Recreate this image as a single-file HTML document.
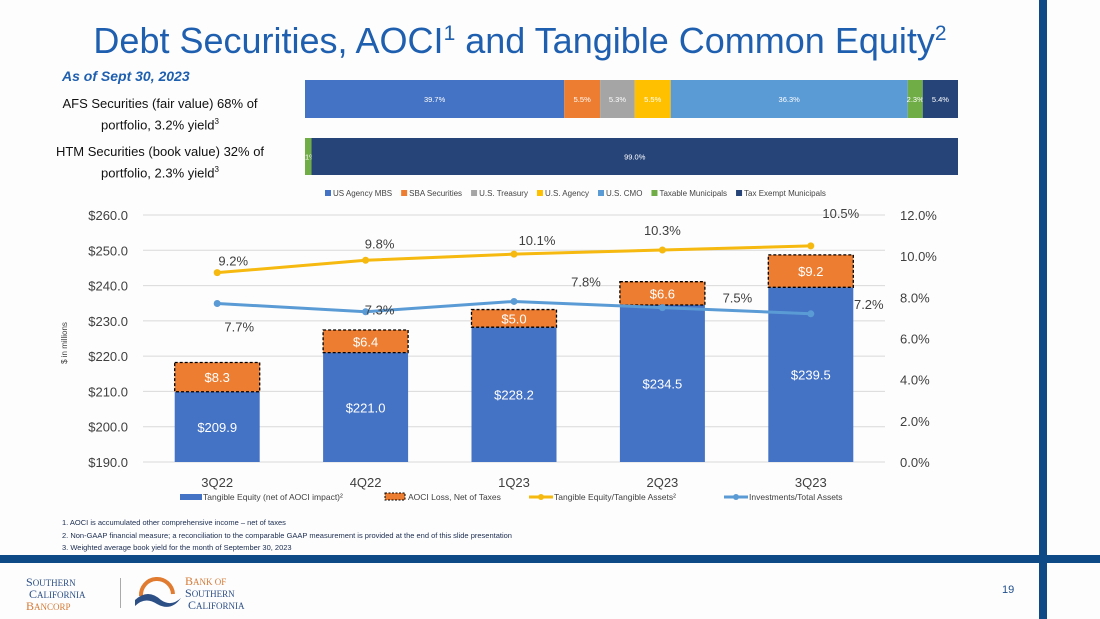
<!DOCTYPE html>
<html><head><meta charset="utf-8">
<style>
body{margin:0;width:1100px;height:619px;background:#fdfdfd;position:relative;overflow:hidden;font-family:"Liberation Sans",sans-serif;}
.abs{position:absolute;}
</style></head>
<body>
<div class="abs" style="left:0;width:1040px;top:20px;text-align:center;font-size:36px;color:#1f5fb0;">Debt Securities, AOCI<sup style="font-size:21px">1</sup> and Tangible Common Equity<sup style="font-size:21px">2</sup></div>
<div class="abs" style="left:62px;top:68px;font-size:14px;font-style:italic;font-weight:bold;color:#1f5fb0;">As of Sept 30, 2023</div>
<div class="abs" style="left:45px;width:230px;top:95px;text-align:center;font-size:13px;line-height:18px;color:#111;">AFS Securities (fair value) 68% of portfolio, 3.2% yield<sup style="font-size:8px">3</sup></div>
<div class="abs" style="left:45px;width:230px;top:143px;text-align:center;font-size:13px;line-height:18px;color:#111;">HTM Securities (book value) 32% of portfolio, 2.3% yield<sup style="font-size:8px">3</sup></div>
<div class="abs" style="left:1039px;top:0;width:8px;height:619px;background:#0e4a86;"></div>
<div class="abs" style="left:0;top:555px;width:1100px;height:8px;background:#0e4a86;"></div>
<div class="abs" style="left:1002px;top:584px;font-size:11px;color:#1f4e8c;">19</div>
<div class="abs" style="left:62px;top:517px;font-size:7.5px;line-height:12.5px;color:#1a2c50;">1. AOCI is accumulated other comprehensive income – net of taxes<br>2. Non-GAAP financial measure; a reconciliation to the comparable GAAP measurement is provided at the end of this slide presentation<br>3. Weighted average book yield for the month of September 30, 2023</div>
<div class="abs" style="left:26px;top:577px;font-family:'Liberation Serif',serif;font-size:12px;line-height:11px;color:#2c4f86;">S<span style="font-size:9px">OUTHERN</span><br>&nbsp;C<span style="font-size:9px">ALIFORNIA</span><br><span style="color:#d67a36">B<span style="font-size:9px">ANCORP</span></span></div>
<div class="abs" style="left:120px;top:578px;width:1px;height:30px;background:#aaa"></div>
<svg class="abs" style="left:133px;top:574px" width="50" height="36"><path d="M8 22 A16 16 0 0 1 40 20" fill="none" stroke="#e07b30" stroke-width="4"/><path d="M2 26 Q15 14 28 26 Q38 33 48 24 Q38 38 24 30 Q12 22 2 32Z" fill="#2c4f86"/></svg>
<div class="abs" style="left:185px;top:576px;font-family:'Liberation Serif',serif;font-size:12px;line-height:11px;color:#2c4f86;"><span style="color:#d67a36">B<span style="font-size:9px">ANK OF</span></span><br>S<span style="font-size:9px">OUTHERN</span><br>&nbsp;C<span style="font-size:9px">ALIFORNIA</span></div>

<svg id="topsvg" class="abs" style="left:0;top:0" width="1100" height="210"></svg>
<svg id="chart" class="abs" style="left:0;top:0" width="1100" height="519"></svg>
<script>
const secNames=["US Agency MBS","SBA Securities","U.S. Treasury","U.S. Agency","U.S. CMO","Taxable Municipals","Tax Exempt Municipals"];
const secColors=["#4472c4","#ed7d31","#a5a5a5","#ffc000","#5b9bd5","#70ad47","#264478"];
const afsVals=[39.7,5.5,5.3,5.5,36.3,2.3,5.4];
const htmVals=[0,0,0,0,0,1.0,99.0];

const categories=["3Q22","4Q22","1Q23","2Q23","3Q23"];
const equity=[209.9,221.0,228.2,234.5,239.5];
const aoci=[8.3,6.4,5.0,6.6,9.2];
const tceRatio=[9.2,9.8,10.1,10.3,10.5];
const invRatio=[7.7,7.3,7.8,7.5,7.2];
const leftTicks=[190,200,210,220,230,240,250,260];
const rightTicks=[0,2,4,6,8,10,12];

const NS="http://www.w3.org/2000/svg";
function mk(p,t,a,txt){const e=document.createElementNS(NS,t);for(const k in a)e.setAttribute(k,a[k]);if(txt!==undefined)e.textContent=txt;p.appendChild(e);return e;}

const topSvg=document.getElementById('topsvg');
const bx0=305,bx1=958;
function stack(vals,y,h,nm){let x=bx0;const tot=vals.reduce((a,b)=>a+b,0);
 vals.forEach((v,i)=>{if(v<=0)return;const w=v/tot*(bx1-bx0);
  const r=mk(topSvg,'rect',{x:x,y:y,width:w,height:h,fill:secColors[i]});
  
  
  const lbl=(v===1)?'1%':v.toFixed(1)+'%';
  const t=mk(topSvg,'text',{x:v<2?x:x+w/2,y:y+h/2+3,'font-size':7.5,fill:'#fff','text-anchor':v<2?'start':'middle'},lbl);
  
  
  x+=w;});}
stack(afsVals,80,38,'afs');
stack(htmVals,138,37,'htm');
let lx=325;
secNames.forEach((n,i)=>{const g=mk(topSvg,'g',{});
 
 
 mk(g,'rect',{x:lx,y:190,width:6,height:6,fill:secColors[i]});
 const t=mk(g,'text',{x:lx+8,y:196,'font-size':8,fill:'#444'},n);
 lx+=8+t.getComputedTextLength()+9;});

const svg=document.getElementById('chart');
const L=143,R=885,T=215,B=462;
const yL=v=>B-(v-190)/70*(B-T);
const yR=v=>B-v/12*(B-T);
const step=(R-L)/categories.length;
const xC=i=>L+step*(i+0.5);
const bw=85;
leftTicks.forEach(v=>{const y=yL(v);
 const l=mk(svg,'line',{x1:L,x2:R,y1:y,y2:y,stroke:'#d9d9d9','stroke-width':1});
 
 
 const t=mk(svg,'text',{x:128,y:y+5,'font-size':13,fill:'#404040','text-anchor':'end'},'$'+v.toFixed(1));
 
 });
rightTicks.forEach(v=>{const t=mk(svg,'text',{x:900,y:yR(v)+5,'font-size':13,fill:'#404040'},v.toFixed(1)+'%');
 
 });
const yt=mk(svg,'text',{x:0,y:0,'font-size':8,fill:'#404040','text-anchor':'middle',transform:'translate(67,343) rotate(-90)'},'$ in millions');


categories.forEach((c,i)=>{const x=xC(i);
 const b=mk(svg,'rect',{x:x-bw/2,y:yL(equity[i]),width:bw,height:B-yL(equity[i]),fill:'#4472c4'});
 
 
 const a=mk(svg,'rect',{x:x-bw/2,y:yL(equity[i]+aoci[i]),width:bw,height:yL(equity[i])-yL(equity[i]+aoci[i]),fill:'#ed7d31',stroke:'#000','stroke-dasharray':'3,2','stroke-width':1.3});
 
 
 const t1=mk(svg,'text',{x:x,y:(yL(equity[i])+B)/2+5,'font-size':13,fill:'#fff','text-anchor':'middle'},'$'+equity[i].toFixed(1));
 
 
 const t2=mk(svg,'text',{x:x,y:(yL(equity[i])+yL(equity[i]+aoci[i]))/2+5,'font-size':13,fill:'#fff','text-anchor':'middle'},'$'+aoci[i].toFixed(1));
 
 
 const t3=mk(svg,'text',{x:x,y:487,'font-size':13,fill:'#404040','text-anchor':'middle'},c);
 
 });
const tceOff=[[16,-12],[14,-17],[23,-14],[0,-20],[30,-33]];
const invOff=[[22,23],[14,-2],[72,-20],[75,-10],[58,-10]];
function series(vals,color,off,nm){
 const pts=vals.map((v,i)=>[xC(i),yR(v)]);
 const p=mk(svg,'polyline',{points:pts.map(q=>q.join(',')).join(' '),fill:'none',stroke:color,'stroke-width':3});
 
 
 pts.forEach((q,i)=>{const c=mk(svg,'circle',{cx:q[0],cy:q[1],r:3.5,fill:color});
  
  
  const t=mk(svg,'text',{x:q[0]+off[i][0],y:q[1]+off[i][1]+5,'font-size':13,fill:'#404040','text-anchor':'middle'},vals[i].toFixed(1)+'%');
  
  });}
series(tceRatio,'#f5b90f',tceOff,'tce-ratio');
series(invRatio,'#5b9bd5',invOff,'investments-ratio');
const lg=[["rect","#4472c4","Tangible Equity (net of AOCI impact)²",180],["dash","#ed7d31","AOCI Loss, Net of Taxes",385],["line","#f5b90f","Tangible Equity/Tangible Assets²",529],["line","#5b9bd5","Investments/Total Assets",724]];
lg.forEach(e=>{const g=mk(svg,'g',{});
 
 
 const x=e[3];
 if(e[0]==='rect')mk(g,'rect',{x:x,y:494,width:22,height:6,fill:e[1]});
 else if(e[0]==='dash')mk(g,'rect',{x:x,y:493,width:20,height:7,fill:e[1],stroke:'#000','stroke-dasharray':'2,1.5'});
 else{mk(g,'line',{x1:x,x2:x+24,y1:497,y2:497,stroke:e[1],'stroke-width':3});mk(g,'circle',{cx:x+12,cy:497,r:3,fill:e[1]});}
 mk(g,'text',{x:x+(e[0]==='line'?25:23),y:500,'font-size':8.5,fill:'#404040'},e[2]);});
</script>
</body></html>
